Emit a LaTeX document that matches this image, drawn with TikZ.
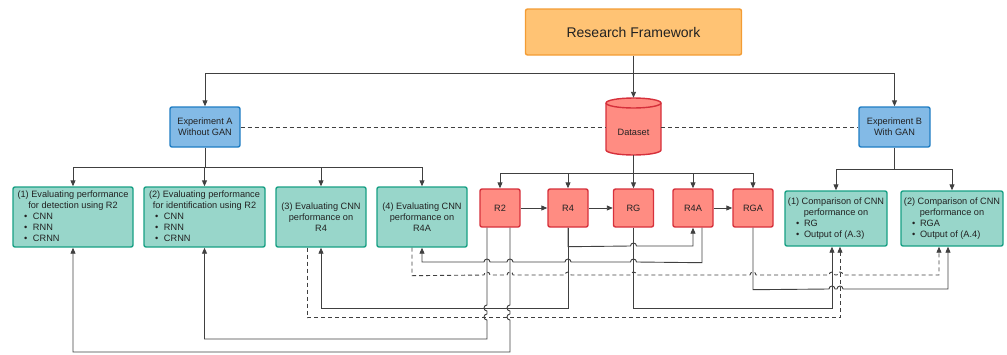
\documentclass[tikz,border=0pt]{standalone}
\usepackage{fontspec}
\setmainfont{Liberation Sans}
\usetikzlibrary{arrows.meta,calc}
\definecolor{lc}{HTML}{404040}
\definecolor{orfill}{HTML}{FFC374}
\definecolor{ordraw}{HTML}{F39C34}
\definecolor{blfill}{HTML}{83BAE6}
\definecolor{bldraw}{HTML}{1F7DC3}
\definecolor{rdfill}{HTML}{FF8C82}
\definecolor{rddraw}{HTML}{D6303B}
\definecolor{gnfill}{HTML}{98D6CA}
\definecolor{gndraw}{HTML}{17A084}
\definecolor{tx}{HTML}{222222}
% bullet line: #1 box width, #2 bullet-to-text gap, #3 text
\newcommand\blt[3]{\makebox[#1][l]{\hspace{11pt}\makebox[#2][l]{\textbullet}#3}}
\begin{document}
\begin{tikzpicture}[x=1pt,y=-1pt,
  box/.style={rounded corners=2pt, line width=1.4pt, inner sep=0pt,
    font=\fontsize{9.2}{11}\selectfont, text=tx, align=center},
  gbox/.style={box, fill=gnfill, draw=gndraw},
  bbox/.style={box, fill=blfill, draw=bldraw},
  rbox/.style={box, fill=rdfill, draw=rddraw, minimum width=40pt, minimum height=38pt},
  obox/.style={box, fill=orfill, draw=ordraw},
  conn/.style={draw=lc, line width=0.9pt},
  arr/.style={-{Triangle[length=6pt,width=5pt]}},
  dsh/.style={dash pattern=on 4pt off 3pt}]
\useasboundingbox (0,0) rectangle (1007,354);

% nodes
\node[obox, minimum width=216pt, minimum height=46pt, font=\fontsize{14}{16}\selectfont] (RF) at (633.5,32) {Research Framework};
\node[bbox, minimum width=70pt, minimum height=40pt] (ExpA) at (205,127) {Experiment A\\Without GAN};
\node[bbox, minimum width=71pt, minimum height=40pt] (ExpB) at (894.5,127) {Experiment B\\With GAN};

% dataset cylinder
\fill[rdfill] (606,103) -- (606,150) arc[start angle=180,end angle=360,x radius=27.5pt,y radius=5pt]
  -- (661,103) arc[start angle=0,end angle=180,x radius=27.5pt,y radius=5pt] -- cycle;
\draw[rddraw, line width=1.4pt] (606,103) -- (606,150) arc[start angle=180,end angle=360,x radius=27.5pt,y radius=5pt]
  -- (661,103) arc[start angle=0,end angle=180,x radius=27.5pt,y radius=5pt];
\draw[rddraw, line width=1.4pt] (606,103) arc[start angle=180,end angle=360,x radius=27.5pt,y radius=5pt];
\node[minimum width=55pt, minimum height=57pt, inner sep=0pt] (Dataset) at (633.5,126.5) {};
\node[font=\fontsize{9.2}{11}\selectfont, text=tx, inner sep=0pt] (DL) at (633.5,132) {Dataset};

\node[gbox, minimum width=120pt, minimum height=60pt] (A1) at (73,217)
  {\begin{tabular}{@{}c@{}}(1) Evaluating performance\\for detection using R2\\
   \blt{120pt}{9pt}{CNN}\\\blt{120pt}{9pt}{RNN}\\\blt{120pt}{9pt}{CRNN}\end{tabular}};
\node[gbox, minimum width=121pt, minimum height=60pt] (A2) at (204.5,217)
  {\begin{tabular}{@{}c@{}}(2) Evaluating performance\\for identification using R2\\
   \blt{121pt}{9pt}{CNN}\\\blt{121pt}{9pt}{RNN}\\\blt{121pt}{9pt}{CRNN}\end{tabular}};
\node[gbox, minimum width=90pt, minimum height=60pt] (A3) at (321,217)
  {(3) Evaluating CNN\\performance on\\R4};
\node[gbox, minimum width=90pt, minimum height=60pt] (A4) at (422,217)
  {(4) Evaluating CNN\\performance on\\R4A};

\node[rbox] (R2) at (500,208) {R2};
\node[rbox] (R4) at (568,208) {R4};
\node[rbox] (RG) at (633.5,208) {RG};
\node[rbox] (R4A) at (693,208) {R4A};
\node[rbox] (RGA) at (753,208) {RGA};

\node[gbox, minimum width=102pt, minimum height=55pt] (B1) at (836,218.5)
  {\begin{tabular}{@{}c@{}}(1) Comparison of CNN\\performance on\\
   \blt{102pt}{8pt}{RG}\\\blt{102pt}{8pt}{Output of (A.3)}\end{tabular}};
\node[gbox, minimum width=102pt, minimum height=55pt] (B2) at (952,218.5)
  {\begin{tabular}{@{}c@{}}(2) Comparison of CNN\\performance on\\
   \blt{102pt}{8pt}{RGA}\\\blt{102pt}{8pt}{Output of (A.4)}\end{tabular}};

% top connectors
\coordinate (tb) at (633.5,73);
\draw[conn,arr] (RF.south) -- (Dataset.north);
\draw[conn,arr] (tb) -| (ExpA.north);
\draw[conn,arr] (tb) -| (ExpB.north);
\draw[conn,dsh] (ExpA.east) -- (ExpA.east -| Dataset.west);
\draw[conn,dsh] (ExpB.west -| Dataset.east) -- (ExpB.west);

\coordinate (ab) at (205,167);
\draw[conn] (ExpA.south) -- (ab);
\foreach \n in {A1,A2,A3,A4} \draw[conn,arr] (ab) -| (\n.north);

\coordinate (db) at (633.5,173);
\draw[conn] (Dataset.south) -- (db);
\foreach \n in {R2,R4,RG,R4A,RGA} \draw[conn,arr] (db) -| (\n.north);

\coordinate (bb) at (894.5,169);
\draw[conn] (ExpB.south) -- (bb);
\foreach \n in {B1,B2} \draw[conn,arr] (bb) -| (\n.north);

\draw[conn,arr] (R2) -- (R4);
\draw[conn,arr] (R4) -- (RG);
\draw[conn,arr] (R4A) -- (RGA);

% lower connectors
\draw[conn,arr] (R4.south) -- ++(0,19) -- (630.5,246) arc[start angle=180,end angle=0,radius=3pt] -| (R4A.south);
\draw[conn,arr] (R4.south) -- ++(0,81) -| (A3.south);
\draw[conn,arr] (RG.south) -- ++(0,81) -| ($(B1.south)+(-4,0)$);
\draw[conn,arr] ($(R4A.south)+(9,0)$) -- ++(0,35)
  -- (636.5,262) arc[start angle=0,end angle=180,radius=3pt]
  -- (571,262) arc[start angle=0,end angle=180,radius=3pt]
  -- (513,262) arc[start angle=0,end angle=180,radius=3pt]
  -- (490,262) arc[start angle=0,end angle=180,radius=3pt]
  -| (A4.south);
\draw[conn,dsh,arr] ($(A4.south)+(-10,0)$) -- ++(0,28)
  -- (484,275) arc[start angle=180,end angle=0,radius=3pt]
  -- (507,275) arc[start angle=180,end angle=0,radius=3pt]
  -- (565,275) arc[start angle=180,end angle=0,radius=3pt]
  -- (630.5,275) arc[start angle=180,end angle=0,radius=3pt]
  -- (750,275) arc[start angle=180,end angle=0,radius=3pt]
  -- (829,275) arc[start angle=180,end angle=0,radius=3pt]
  -- (837,275) arc[start angle=180,end angle=0,radius=3pt]
  -| ($(B2.south)+(-13,0)$);
\draw[conn,dsh,arr] ($(A3.south)+(-14,0)$) -- ++(0,70) -| ($(B1.south)+(4,0)$);
\draw[conn,arr] (RGA.south) -- ++(0,62)
  -- (829,289) arc[start angle=180,end angle=0,radius=3pt]
  -- (837,289) arc[start angle=180,end angle=0,radius=3pt]
  -| ($(B2.south)+(-4,0)$);
\draw[conn,arr] ($(R2.south)+(-13,0)$) -- (487,305) arc[start angle=90,end angle=270,radius=3pt]
  -- (487,314) arc[start angle=90,end angle=270,radius=3pt] -- (487,339) -| (A2.south);
\draw[conn,arr] ($(R2.south)+(10,0)$) -- (510,305) arc[start angle=90,end angle=270,radius=3pt]
  -- (510,314) arc[start angle=90,end angle=270,radius=3pt] -- (510,352) -| (A1.south);
\end{tikzpicture}
\end{document}
